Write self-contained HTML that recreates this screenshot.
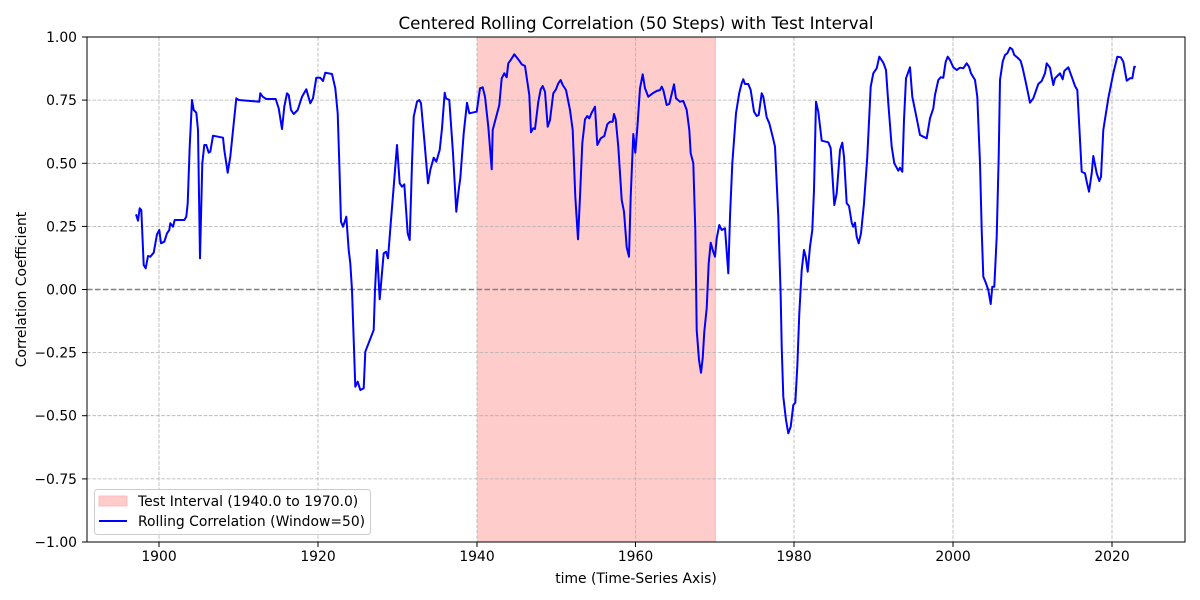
<!DOCTYPE html>
<html><head><meta charset="utf-8"><style>
html,body{margin:0;padding:0;background:#fff;}
svg{display:block;font-family:"DejaVu Sans","Liberation Sans",sans-serif;}
</style></head><body>
<svg width="1200" height="600" viewBox="0 0 1200 600" xmlns="http://www.w3.org/2000/svg">
<rect width="1200" height="600" fill="#fff"/>
<!-- test interval -->
<rect x="477" y="37" width="238.3" height="505" fill="#ffcccc"/>
<line x1="715.3" y1="37" x2="715.3" y2="542" stroke="#ffb3b3" stroke-width="1"/>
<!-- grid -->
<g stroke="#b0b0b0" stroke-width="0.8" stroke-dasharray="3.7,1.6">
<line x1="159" y1="37" x2="159" y2="542"/>
<line x1="318" y1="37" x2="318" y2="542"/>
<line x1="477" y1="37" x2="477" y2="542"/>
<line x1="635.5" y1="37" x2="635.5" y2="542"/>
<line x1="794" y1="37" x2="794" y2="542"/>
<line x1="953" y1="37" x2="953" y2="542"/>
<line x1="1112" y1="37" x2="1112" y2="542"/>
<line x1="87" y1="100.1" x2="1185" y2="100.1"/>
<line x1="87" y1="163.3" x2="1185" y2="163.3"/>
<line x1="87" y1="226.4" x2="1185" y2="226.4"/>
<line x1="87" y1="352.6" x2="1185" y2="352.6"/>
<line x1="87" y1="415.7" x2="1185" y2="415.7"/>
<line x1="87" y1="478.9" x2="1185" y2="478.9"/>
</g>
<line x1="87" y1="289.5" x2="1185" y2="289.5" stroke="#808080" stroke-width="1.5" stroke-dasharray="5.55,2.4"/>
<!-- series -->
<polyline fill="none" stroke="#0000ff" stroke-width="2" stroke-linejoin="round" points="
136,214.3 138,220.7 139.7,208.3 141.3,210 143.7,265 145.7,268.3 148,256 150.3,256.7 153.7,252.7 157,234.3 159.3,230 161,243.3 164.3,241.7 167,233.3 169.3,230 170.3,223.3 173,226.7 174.7,220 184.3,220 186.3,216.7 187.7,203.3 189.7,146.7 192,100 193.7,110 196.3,112.7 198,130 200,258.3 202.3,163.3 204.3,145 206.3,145 208.7,152.7 210.3,151.7 213,135.7 223,137.7 224.3,150 227.7,172.7 230.3,156.7 236.3,98.3 238.7,100 259.3,101.7 260.3,93.3 262.7,96.7 266.3,99 275.7,99 278.7,108.3 282,129 284.3,106.7 287,93.3 288.7,95 291,110 293.7,114 297.7,110 302,96.7 306.3,89.3 310.3,103.3 313,98.3 316.3,77.7 320.3,77.7 323,81 325.3,72.7 332,74 335.3,88.3 337.7,113.3 339.3,163.3 341,221.7 343,226.7 345.3,220 346.3,216.7 348.7,250 350.3,263.3 352,290 355.3,386.7 357.7,381.7 360.3,390 363.7,388.3 365.3,351.7 373.7,330 375,290 377,250 379.7,299.3 383.7,253.3 386,251.7 388,258.3 391,220 393.7,186.7 397,145 399.7,183.3 402,186.7 404.3,184.3 407.7,233.3 409.7,240 412,163.3 413.7,116.7 417,101.7 419.3,100 421,103.3 424.3,140 428,183.3 430.3,170 433.7,157.7 436.3,161.7 439.7,150 442,128.3 444.7,92.7 446,98.3 449.3,100 453,153.3 456.3,211.7 458.7,190 460.3,178.3 463.7,133.3 467,102.7 469.3,113.3 476.7,111.7 480,88.3 482.7,87.3 485,96.7 488.3,126.7 491.7,169.3 492.7,130 499.3,105 501.7,78.3 504.3,73.3 506.7,77.3 508.3,63.3 510.7,60 514.3,54.3 519.3,60.7 521.7,64.3 525,66 529.3,95 531,132.3 533.3,128.3 535,129 538.3,101.7 540.7,89.3 542.7,86 545,91.7 547.7,126.7 550,120 553.3,93.3 556,89.3 558.3,83.3 560.7,80 562.7,85 566,90 570,110 572.7,130 575.3,196.7 578,239.3 580,196.7 582.3,143.3 585,119.3 587.3,116 589.3,118.3 591.7,112.7 595,106.7 597.3,145 600.7,138.3 604.3,136 607.3,124.3 610,121.7 612.7,121.7 614,114 615.7,119.3 618.3,146.7 621.7,200 624,211.7 626.7,247.3 629,256.7 630.7,196.7 633.3,134 635.3,152.7 637.3,128.3 640,88.3 642.7,74.3 645,88.3 648.3,96.7 652.7,93.3 656.7,91 660,90 661.7,86.7 663.3,90 666.7,105 669.3,104 674,84.3 676,98.3 680,101.7 683.3,101 686.7,110 689.3,130 690.7,153.3 693.3,163.3 695.3,230 696.7,330 699,360 701,372.7 702.7,358.3 704.3,331.7 706.7,308.3 708.7,263.3 710.7,242.7 712.7,250 715,256.7 716.7,238.3 719.3,225 721.7,230 725,228.3 728.3,273.3 730,216.7 732.3,163.3 736,113.3 739.3,92.7 741.7,83.3 743.3,79.3 745,84 748.3,84 750.7,90 754,111.7 756.7,116 758.7,115 761.7,93.3 763.3,96.7 766.7,117.3 769.3,123.3 772.7,136.7 775,146.7 778.3,216.7 780.7,296.7 781.7,346.7 783.3,396.7 786,420 788.3,433.3 790.7,426.7 793.3,405 795.3,402.7 797.3,366.7 799.3,313.3 801.7,270 804,250 805.7,256.7 807.7,271.7 810,246.7 812.3,230 814,190 816,101.7 818.3,111.7 821.7,140.7 828.3,142.3 830.7,148.3 832.7,180 834.3,205 836.7,193.3 840,150 842.3,142.7 844,156.7 846.7,203.3 849,206 851.7,222.7 853.3,226.7 855,222.7 856.7,236.7 858.7,243.3 861,233.3 864,203.3 867.3,156.7 870.7,86.7 873.3,73.3 876.7,68.3 879.3,56.7 883.3,62.7 886,70 888.3,103.3 891.7,146.7 894.3,163.3 898.3,170.7 900,167.7 902.3,171.7 904,120 906,78.3 910,67.3 912.3,96.7 916.7,118.3 920,135 923.3,136.7 926.7,138.3 930,118.3 933.3,108.3 935,95 938.3,80 940.7,77.3 943.3,77.7 945.7,61.7 947.7,56.7 950,60 953.3,67.3 956.7,70 960,67.7 963.3,68.3 966.7,63.3 969,66.7 971,73.3 975,80 977.3,96.7 980,163.3 981.7,230 983.3,276.7 986,283.3 988.3,290 990.7,304 992.3,286.7 994.3,286.7 996.7,236.7 998.7,156.7 1000,80 1002.7,61.7 1005,55 1007.3,53.3 1010,47.7 1012.3,49.3 1014.3,55 1018.3,58.3 1020.7,61 1022.7,68.3 1026,83.3 1030,102.7 1033.3,98.3 1038.3,84 1041.7,81 1045,73.3 1046.7,63.3 1050,67.7 1053.3,85 1055,78.3 1060,73.3 1062.7,79.3 1064.3,71 1068.3,67.3 1071.7,76.7 1075,86 1077.3,90 1079.3,126.7 1081.7,171.7 1085,173.3 1086.7,181.7 1089,191.7 1091.7,173.3 1093.3,156 1096.7,173.3 1099.3,181 1101,176.7 1103.3,130 1108.3,98.3 1113.3,73.3 1117.3,56.7 1120.7,57.3 1123.3,61.7 1126.7,80.7 1130,78.3 1132.3,78.3 1134.3,66.7 1135.7,67.3"/>
<!-- axes frame -->
<rect x="87" y="37" width="1098" height="505" fill="none" stroke="#000" stroke-width="1"/>
<!-- ticks -->
<g stroke="#000" stroke-width="1">
<line x1="159" y1="542" x2="159" y2="547"/>
<line x1="318" y1="542" x2="318" y2="547"/>
<line x1="477" y1="542" x2="477" y2="547"/>
<line x1="635.5" y1="542" x2="635.5" y2="547"/>
<line x1="794" y1="542" x2="794" y2="547"/>
<line x1="953" y1="542" x2="953" y2="547"/>
<line x1="1112" y1="542" x2="1112" y2="547"/>
<line x1="82" y1="37" x2="87" y2="37"/>
<line x1="82" y1="100.1" x2="87" y2="100.1"/>
<line x1="82" y1="163.3" x2="87" y2="163.3"/>
<line x1="82" y1="226.4" x2="87" y2="226.4"/>
<line x1="82" y1="289.5" x2="87" y2="289.5"/>
<line x1="82" y1="352.6" x2="87" y2="352.6"/>
<line x1="82" y1="415.7" x2="87" y2="415.7"/>
<line x1="82" y1="478.9" x2="87" y2="478.9"/>
<line x1="82" y1="542" x2="87" y2="542"/>
</g>
<g font-size="13.9" fill="#000" text-anchor="middle">
<text x="159" y="561">1900</text>
<text x="318" y="561">1920</text>
<text x="477" y="561">1940</text>
<text x="635.5" y="561">1960</text>
<text x="794" y="561">1980</text>
<text x="953" y="561">2000</text>
<text x="1112" y="561">2020</text>
</g>
<g font-size="13.9" fill="#000" text-anchor="end">
<text x="77" y="42">1.00</text>
<text x="77" y="105.1">0.75</text>
<text x="77" y="168.3">0.50</text>
<text x="77" y="231.4">0.25</text>
<text x="77" y="294.5">0.00</text>
<text x="77" y="357.6">−0.25</text>
<text x="77" y="420.7">−0.50</text>
<text x="77" y="483.9">−0.75</text>
<text x="77" y="547">−1.00</text>
</g>
<text x="636" y="29" font-size="16.7" text-anchor="middle" fill="#000">Centered Rolling Correlation (50 Steps) with Test Interval</text>
<text x="636" y="583" font-size="13.9" text-anchor="middle" fill="#000">time (Time-Series Axis)</text>
<text transform="translate(26,289.5) rotate(-90)" font-size="13.9" text-anchor="middle" fill="#000">Correlation Coefficient</text>
<!-- legend -->
<rect x="94.5" y="489.5" width="276" height="45" rx="3" fill="#fff" fill-opacity="0.8" stroke="#cccccc" stroke-width="1"/>
<rect x="99" y="496" width="28" height="10" fill="#ffcccc" stroke="#ffb3b3" stroke-width="0.8"/>
<text x="138" y="506" font-size="13.9" fill="#000">Test Interval (1940.0 to 1970.0)</text>
<line x1="99" y1="521" x2="127" y2="521" stroke="#0000ff" stroke-width="2"/>
<text x="138" y="526" font-size="13.9" fill="#000">Rolling Correlation (Window=50)</text>
</svg>
</body></html>
